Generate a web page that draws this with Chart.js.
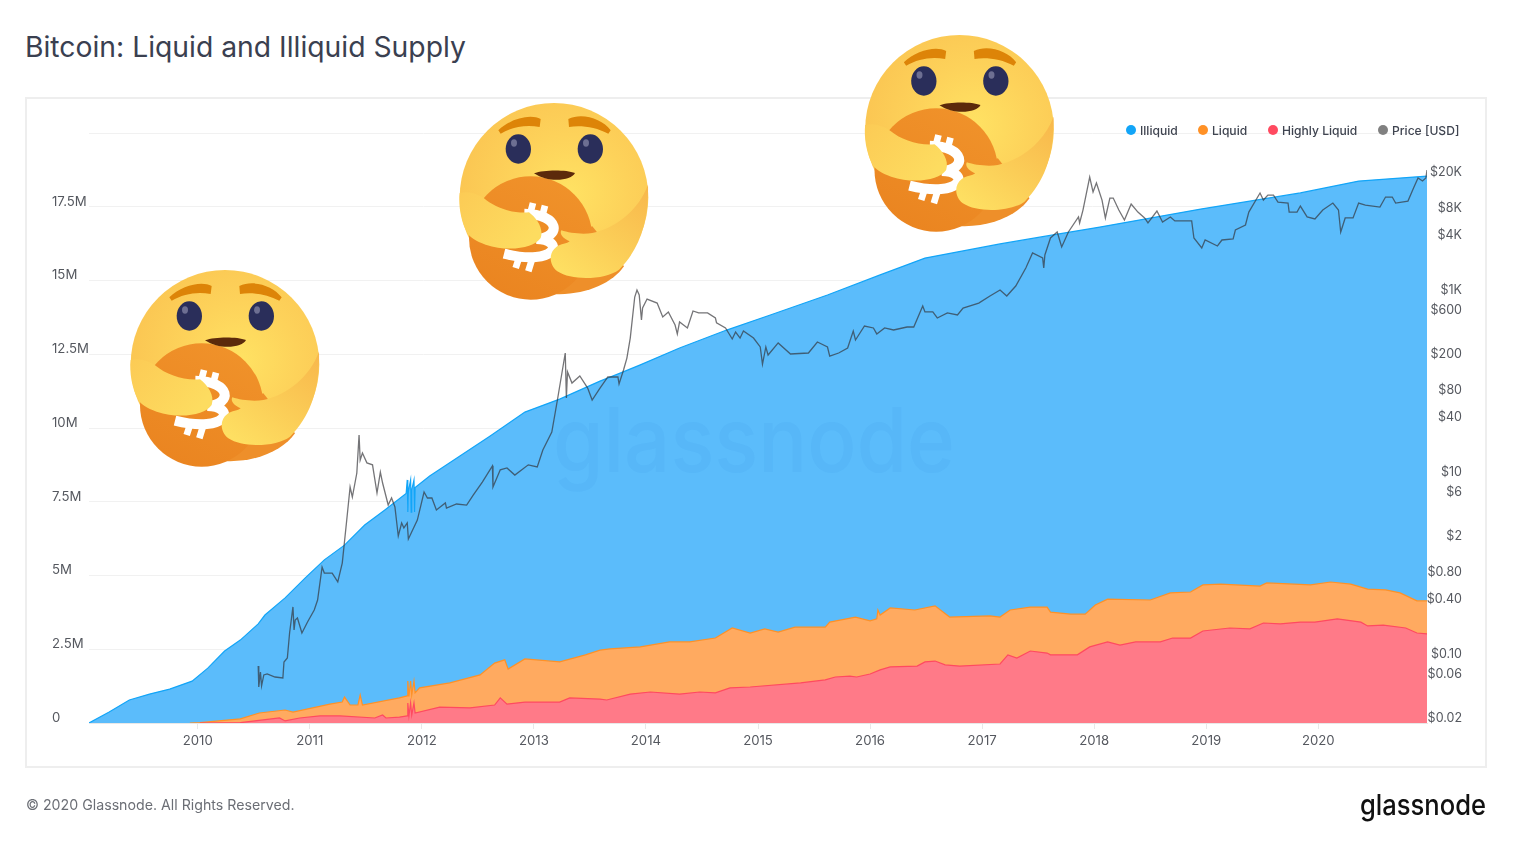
<!DOCTYPE html>
<html>
<head>
<meta charset="utf-8">
<title>Bitcoin: Liquid and Illiquid Supply</title>
<script src="https://cdn.jsdelivr.net/npm/chart.js@4/dist/chart.umd.min.js"></script>
<style>
  html,body{margin:0;padding:0;background:#fff;width:1513px;height:849px;overflow:hidden;font-family:Inter,sans-serif;}
  #title{position:absolute;left:25px;top:29px;font-size:28.3px;line-height:36px;color:#3a4050;white-space:nowrap;}
  #card{position:absolute;left:25px;top:97px;width:1458px;height:667px;border:2px solid #eeeeee;}
  #attChart{position:absolute;left:0;top:0;}
  #legend span{position:absolute;top:122.5px;font-size:12.1px;line-height:15px;font-weight:500;color:#3f4450;white-space:nowrap;}
  #legend i{position:absolute;top:125px;width:10px;height:10px;border-radius:50%;}
  #copy{position:absolute;left:26px;top:796px;font-size:14.2px;line-height:18px;color:#6b6e75;white-space:nowrap;}
  svg.over{position:absolute;left:0;top:0;pointer-events:none;}
</style>
</head>
<body>
<div id="title">Bitcoin: Liquid and Illiquid Supply</div>
<div id="card"></div>
<canvas id="attChart" width="1513" height="849"></canvas>
<div id="legend"></div>
<div id="copy">© 2020 Glassnode. All Rights Reserved.</div>

<svg class="over" width="1513" height="849" xmlns="http://www.w3.org/2000/svg">
  <defs>
    <radialGradient id="headFill" gradientUnits="userSpaceOnUse" cx="360" cy="300" r="320">
      <stop offset="0" stop-color="#ffe263"/><stop offset="0.55" stop-color="#fdd25a"/><stop offset="1" stop-color="#fbc753"/>
    </radialGradient>
    <linearGradient id="coinFill" x1="0.7" y1="0" x2="0.2" y2="1">
      <stop offset="0" stop-color="#f0922a"/><stop offset="1" stop-color="#ea8420"/>
    </linearGradient>
    <linearGradient id="leftArm" x1="0" y1="0" x2="1" y2="0.6">
      <stop offset="0" stop-color="#fccb55"/><stop offset="1" stop-color="#fddc60"/>
    </linearGradient>
    <linearGradient id="rightArm" x1="1" y1="0" x2="0.2" y2="1">
      <stop offset="0" stop-color="#f8b74b"/><stop offset="0.55" stop-color="#fbcd57"/><stop offset="1" stop-color="#fedf62"/>
    </linearGradient>
    <symbol id="careFace" viewBox="0 0 630 645">
      <circle cx="315" cy="313" r="283" fill="url(#headFill)"/>
      <path d="M300 602 C 400 612 490 572 525 520 L 430 400 L 300 450 Z" fill="#ee8f2a"/>
      <circle cx="245" cy="435" r="185" fill="url(#coinFill)"/>
      <g fill="none" stroke="#fff" stroke-width="30">
        <path d="M226 362 C 335 364 338 434 262 438 C 350 440 325 522 165 482"/>
        <path d="M252 330 L 242 368 M288 338 L 278 376 M200 525 L 212 488 M238 535 L 250 496" stroke-width="20"/>
      </g>
      <path d="M32 300 C 60 292 90 305 105 316 C 140 345 190 362 240 358 C 262 375 285 405 275 435 C 255 465 180 478 110 455 C 80 445 62 432 55 420 C 35 385 28 335 32 300 Z" fill="url(#leftArm)"/>
      <path d="M597 275 C 600 390 570 470 510 530 C 470 560 370 565 325 535 C 300 515 298 480 322 462 C 335 452 355 452 362 445 C 345 438 330 425 337 412 C 360 420 400 425 430 420 C 500 405 570 350 597 275 Z" fill="url(#rightArm)"/>
      <path d="M148 112 C 185 76 245 62 275 78 L 272 102 C 230 94 190 102 155 122 Z" fill="#dd8408"/>
      <path d="M358 78 C 400 58 460 78 485 112 L 478 122 C 440 102 395 96 360 102 Z" fill="#dd8408"/>
      <ellipse cx="208" cy="168" rx="38" ry="44" fill="#2a2e5a"/>
      <ellipse cx="424" cy="168" rx="38" ry="44" fill="#2a2e5a"/>
      <ellipse cx="195" cy="150" rx="9" ry="11" fill="#6d6f92"/>
      <ellipse cx="411" cy="150" rx="9" ry="11" fill="#6d6f92"/>
      <path d="M255 241 C 285 230 350 230 378 240 C 368 262 300 272 255 241 Z" fill="#5c2a0b"/>
    </symbol>
  </defs>
  <text x="553" y="472" font-family="Inter,sans-serif" font-size="90" font-weight="500" fill="#0a6fc8" fill-opacity="0.055" textLength="402" lengthAdjust="spacingAndGlyphs">glassnode</text>
  <use href="#careFace" x="120" y="260" width="210" height="215"/>
  <use href="#careFace" x="449" y="93" width="210" height="215"/>
  <use href="#careFace" x="854.5" y="25" width="210" height="215"/>
  <text x="1360" y="815" font-family="Inter,sans-serif" font-size="29" font-weight="500" fill="#111" textLength="126" lengthAdjust="spacingAndGlyphs">glassnode</text>
</svg>

<script>
/* ---- data ---- */
const seriesNames = ['Illiquid', 'Liquid', 'Highly Liquid', 'Price [USD]'];
const seriesColors = ['#12a5f8', '#ff9126', '#ff4a60', '#808080'];

const supplyTicks = [0, 2.5, 5, 7.5, 10, 12.5, 15, 17.5, 20];
const priceTicks = [0.02, 0.06, 0.1, 0.4, 0.8, 2, 6, 10, 40, 80, 200, 600, 1000, 4000, 8000, 20000];
const priceLabels = ['$0.02', '$0.06', '$0.10', '$0.40', '$0.80', '$2', '$6', '$10', '$40', '$80', '$200', '$600', '$1K', '$4K', '$8K', '$20K'];

// cumulative tops of the three bands, millions of BTC
const illiquidDates = [2009.03,2009.21,2009.39,2009.57,2009.75,2009.95,2010.09,2010.24,2010.38,2010.54,2010.6,2010.78,2010.96,2011.13,2011.31,2011.49,2011.67,2011.86,2011.87,2011.875,2011.88,2011.9,2011.905,2011.91,2011.93,2011.935,2011.94,2012.07,2012.34,2012.61,2012.92,2013.23,2013.59,2013.77,2013.95,2014.3,2014.72,2015.11,2015.62,2016.09,2016.49,2017.16,2017.58,2018.05,2018.95,2019.84,2020.36,2020.97];
const illiquidTop = [0,0.37,0.78,0.98,1.15,1.42,1.86,2.44,2.81,3.36,3.66,4.24,4.92,5.53,6.03,6.71,7.22,7.78,8.24,7.15,7.85,8.24,7.15,7.9,8.24,7.15,7.98,8.37,9.05,9.73,10.54,10.98,11.59,11.86,12.14,12.71,13.32,13.83,14.51,15.19,15.76,16.24,16.51,16.81,17.42,17.97,18.37,18.54];

const liquidDates = [2009.93,2010.02,2010.38,2010.55,2010.78,2010.85,2011.18,2011.29,2011.31,2011.36,2011.43,2011.45,2011.47,2011.8,2011.87,2011.875,2011.885,2011.9,2011.91,2011.93,2011.94,2011.98,2012.25,2012.52,2012.65,2012.74,2012.77,2012.92,2013.23,2013.46,2013.59,2013.68,2013.95,2014.21,2014.39,2014.62,2014.77,2014.93,2015.06,2015.18,2015.33,2015.6,2015.64,2015.87,2016,2016.06,2016.07,2016.09,2016.18,2016.4,2016.58,2016.71,2017.07,2017.16,2017.25,2017.43,2017.58,2017.61,2017.79,2017.92,2018.01,2018.12,2018.5,2018.68,2018.86,2018.97,2019.13,2019.48,2019.54,2019.93,2020.11,2020.29,2020.44,2020.6,2020.73,2020.88,2020.97];
const liquidTop = [0,0.01,0.14,0.34,0.44,0.37,0.64,0.71,0.88,0.61,0.61,0.95,0.61,0.85,0.92,1.42,0.9,1.42,0.95,1.42,1.02,1.19,1.36,1.63,2.03,2.14,1.83,2.17,2.07,2.31,2.47,2.51,2.58,2.75,2.75,2.88,3.22,3.05,3.19,3.08,3.25,3.25,3.42,3.59,3.46,3.53,3.83,3.66,3.9,3.83,3.97,3.59,3.63,3.59,3.83,3.93,3.93,3.76,3.69,3.69,4,4.2,4.17,4.41,4.44,4.68,4.71,4.64,4.75,4.68,4.78,4.71,4.54,4.51,4.41,4.14,4.14];

const highlyDates = [2010.02,2010.38,2010.73,2010.78,2010.91,2011.09,2011.27,2011.58,2011.65,2011.68,2011.8,2011.87,2011.875,2011.885,2011.9,2011.91,2011.93,2011.94,2012.16,2012.43,2012.65,2012.7,2012.76,2012.92,2013.23,2013.32,2013.59,2013.65,2013.86,2014.04,2014.3,2014.48,2014.62,2014.75,2014.93,2015.38,2015.6,2015.69,2015.82,2015.88,2016,2016.09,2016.18,2016.42,2016.49,2016.58,2016.67,2016.8,2017.16,2017.23,2017.31,2017.43,2017.58,2017.61,2017.85,2017.96,2018.12,2018.23,2018.37,2018.59,2018.7,2018.86,2018.97,2019.21,2019.39,2019.51,2019.66,2019.84,2019.97,2020.17,2020.38,2020.44,2020.58,2020.78,2020.88,2020.97];
const highlyTop = [0,0.01,0.17,0.07,0.17,0.24,0.24,0.17,0.27,0.17,0.2,0.24,0.68,0.24,0.68,0.27,0.68,0.34,0.54,0.51,0.61,0.85,0.64,0.71,0.71,0.85,0.81,0.78,0.98,1.05,0.98,1.05,1.02,1.19,1.22,1.36,1.46,1.56,1.59,1.56,1.66,1.8,1.9,1.93,2.07,2.1,1.97,1.93,2,2.31,2.2,2.44,2.37,2.31,2.31,2.58,2.75,2.64,2.75,2.75,2.88,2.88,3.12,3.22,3.19,3.39,3.36,3.42,3.42,3.53,3.42,3.29,3.32,3.22,3.05,3.02];

// price, USD, log axis on the right
const priceDates = [2010.54,2010.545,2010.56,2010.57,2010.59,2010.62,2010.69,2010.76,2010.77,2010.8,2010.82,2010.85,2010.86,2010.87,2010.89,2010.93,2010.98,2011.04,2011.07,2011.11,2011.13,2011.2,2011.25,2011.29,2011.33,2011.36,2011.38,2011.42,2011.44,2011.45,2011.47,2011.51,2011.56,2011.6,2011.63,2011.65,2011.7,2011.73,2011.76,2011.79,2011.82,2011.84,2011.87,2011.88,2011.96,2012.02,2012.05,2012.09,2012.13,2012.21,2012.22,2012.31,2012.4,2012.46,2012.54,2012.63,2012.635,2012.7,2012.76,2012.83,2012.95,2013.03,2013.08,2013.16,2013.21,2013.28,2013.29,2013.3,2013.34,2013.41,2013.48,2013.52,2013.59,2013.66,2013.75,2013.76,2013.8,2013.83,2013.86,2013.9,2013.92,2013.94,2013.96,2013.97,2014.01,2014.1,2014.15,2014.2,2014.26,2014.28,2014.3,2014.37,2014.42,2014.47,2014.55,2014.62,2014.63,2014.71,2014.77,2014.8,2014.84,2014.87,2014.96,2015.02,2015.04,2015.07,2015.09,2015.18,2015.29,2015.45,2015.53,2015.62,2015.64,2015.72,2015.8,2015.85,2015.87,2015.95,2016.03,2016.06,2016.13,2016.21,2016.33,2016.39,2016.47,2016.49,2016.56,2016.6,2016.69,2016.78,2016.83,2016.97,2017.07,2017.16,2017.22,2017.3,2017.39,2017.45,2017.54,2017.55,2017.56,2017.61,2017.67,2017.71,2017.77,2017.86,2017.87,2017.9,2017.96,2017.99,2018.02,2018.07,2018.1,2018.14,2018.17,2018.22,2018.27,2018.33,2018.39,2018.45,2018.48,2018.56,2018.61,2018.68,2018.72,2018.87,2018.89,2018.96,2018.99,2019.1,2019.14,2019.24,2019.26,2019.35,2019.38,2019.48,2019.51,2019.55,2019.6,2019.64,2019.73,2019.74,2019.81,2019.84,2019.9,2019.97,2020.04,2020.13,2020.18,2020.2,2020.24,2020.31,2020.36,2020.42,2020.55,2020.6,2020.66,2020.69,2020.8,2020.85,2020.89,2020.93,2020.96,2020.97];
const priceValues = [0.0726,0.0428,0.0625,0.0439,0.0579,0.0594,0.055,0.0537,0.0804,0.0889,0.1675,0.324,0.181,0.233,0.245,0.1675,0.221,0.3,0.386,0.889,0.764,0.764,0.61,0.984,2.92,6.73,5.23,9.6,25.1,13.3,15.9,12.4,11.8,5.79,9.84,7.45,4.27,5.1,4.06,1.95,2.71,2.39,2.71,1.81,2.92,5.94,5.1,5.1,3.77,4.5,3.96,4.38,4.27,5.51,7.64,11.5,6.73,10.4,10.9,9.12,11.8,11.2,17.2,27.1,60.9,200,64.1,124,93.5,112,82.4,60.9,82.4,109,109,91.2,130,176,292,824,984,867,461,624,783,708,498,565,406,324,439,377,579,551,551,485,428,377,285,340,292,349,292,233,151,233,190,258,195,200,264,233,185,200,227,349,278,396,377,324,377,358,386,386,658,565,565,485,551,524,624,708,845,984,845,1089,1718,2512,2213,1718,2388,3673,4276,2924,4276,6252,5370,7447,17180,11750,14760,9594,6095,10090,10090,7447,5794,8670,7079,6095,5370,7261,5508,6252,5649,5649,3673,2851,3491,2999,3491,3581,4498,5105,7079,11460,9594,10890,10890,9120,8892,7079,7079,8241,6252,5943,7447,8892,7447,4276,6095,6095,8892,8453,8035,10350,10350,8892,9354,13000,16750,15520,16750,20510];

/* ---- helpers ---- */
const pairs = (xs, ys) => xs.map((x, i) => ({ x, y: ys[i] }));
const fixWidth = (w) => (scale) => { scale.width = w; };

/* ---- legend ---- */
const legendBox = document.getElementById('legend');
const dotX = [1126, 1198, 1268, 1378], textX = [1140, 1212, 1282, 1392];
seriesNames.forEach((name, i) => {
  const dot = document.createElement('i');
  dot.style.left = dotX[i] + 'px'; dot.style.background = seriesColors[i];
  const label = document.createElement('span');
  label.style.left = textX[i] + 'px'; label.textContent = name;
  legendBox.append(dot, label);
});

/* ---- chart ---- */
const tickFont = { family: 'Inter', size: 12.5 };
const axisFont = { family: 'Inter', size: 13.2 };
new Chart(document.getElementById('attChart').getContext('2d'), {
  type: 'line',
  data: {
    // first dataset is painted last: price on top, then the bands from the bottom one up
    datasets: [
      { label: seriesNames[3], data: pairs(priceDates, priceValues), yAxisID: 'price',
        borderColor: 'rgba(50,50,55,.68)', borderWidth: 1.3, fill: false },
      { label: seriesNames[2], data: pairs(highlyDates, highlyTop), yAxisID: 'supply',
        borderColor: seriesColors[2], borderWidth: 1.2, backgroundColor: '#ff7a88', fill: 'origin' },
      { label: seriesNames[1], data: pairs(liquidDates, liquidTop), yAxisID: 'supply',
        borderColor: seriesColors[1], borderWidth: 1.2, backgroundColor: '#ffaa60', fill: 'origin' },
      { label: seriesNames[0], data: pairs(illiquidDates, illiquidTop), yAxisID: 'supply',
        borderColor: seriesColors[0], borderWidth: 1.2, backgroundColor: '#5bbcfb', fill: 'origin' }
    ]
  },
  options: {
    responsive: false,
    animation: false,
    devicePixelRatio: 1,
    elements: { point: { radius: 0 }, line: { tension: 0 } },
    layout: { padding: { left: 52, right: 51, top: 133, bottom: 89 } },
    plugins: { legend: { display: false }, tooltip: { enabled: false } },
    scales: {
      x: {
        type: 'linear', min: 2009.03, max: 2020.97,
        afterFit: (scale) => { scale.height = 37; },
        border: { color: '#e8e8e8', width: 1 },
        grid: { drawOnChartArea: false, color: '#e8e8e8', tickLength: 6 },
        ticks: { stepSize: 1, includeBounds: false, maxRotation: 0, font: axisFont, color: '#55585f', padding: 4,
                 callback: (v) => String(v) }
      },
      supply: {
        position: 'left', min: 0, max: 20,
        afterFit: fixWidth(37),
        afterBuildTicks: (scale) => { scale.ticks = supplyTicks.map((value) => ({ value })); },
        border: { display: false },
        grid: { color: '#f1f1f1', drawTicks: false },
        ticks: { crossAlign: 'far', labelOffset: -5, padding: 0, font: axisFont, color: '#55585f', autoSkip: false,
                 callback: (v) => v === 20 ? '' : v === 0 ? '0' : v + 'M' }
      },
      price: {
        type: 'logarithmic', position: 'right', min: 0.01718, max: 52330,
        afterFit: fixWidth(35),
        afterBuildTicks: (scale) => { scale.ticks = priceTicks.map((value) => ({ value })); },
        border: { display: false },
        grid: { drawOnChartArea: false, drawTicks: false },
        ticks: { crossAlign: 'far', labelOffset: 1, padding: 0, font: tickFont, color: '#55585f', autoSkip: false,
                 callback: (v, i) => priceLabels[i] }
      }
    }
  }
});
</script>
</body>
</html>
